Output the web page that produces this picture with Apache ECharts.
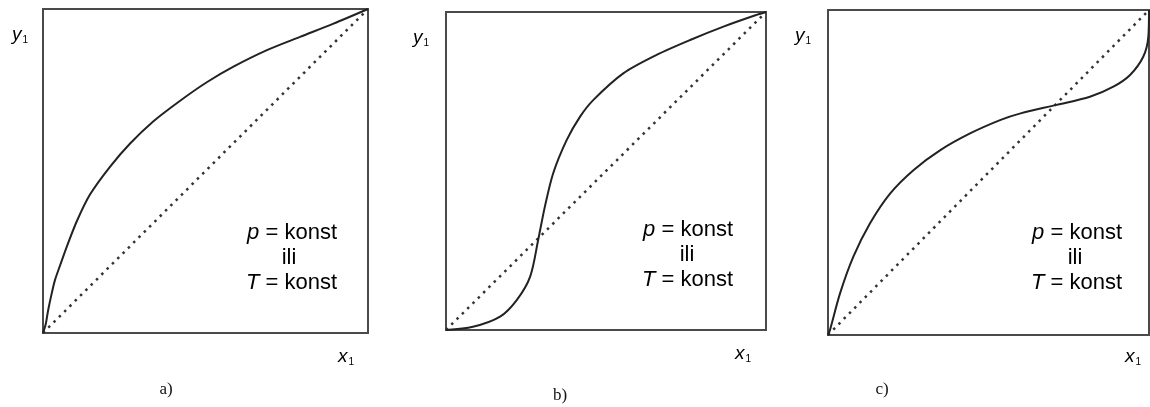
<!DOCTYPE html>
<html>
<head>
<meta charset="utf-8">
<script src="https://cdn.jsdelivr.net/npm/echarts@6/dist/echarts.min.js"></script>
<style>
  html, body { margin: 0; padding: 0; background: #fff; }
  #chart { width: 1150px; height: 407px; }
</style>
</head>
<body>
<div id="chart"></div>
<script>
// ravnotezne krivulje, x1 -> y1 (normirano 0..1)
var curveA = [[0, 0], [0.004, 0.012], [0.009, 0.03], [0.016, 0.071], [0.027, 0.123], [0.037, 0.164],
  [0.053, 0.21], [0.073, 0.266], [0.104, 0.345], [0.145, 0.428], [0.206, 0.513], [0.268, 0.585],
  [0.339, 0.653], [0.422, 0.717], [0.504, 0.774], [0.586, 0.822], [0.689, 0.873], [0.791, 0.914],
  [0.892, 0.954], [1, 1]];
var curveB = [[0, 0], [0.084, 0.010], [0.169, 0.042], [0.221, 0.094], [0.263, 0.168], [0.288, 0.283],
  [0.309, 0.388], [0.335, 0.493], [0.377, 0.597], [0.419, 0.671], [0.460, 0.723], [0.554, 0.807],
  [0.658, 0.865], [0.763, 0.912], [0.867, 0.954], [0.971, 0.991], [1, 1]];
var curveC = [[0, 0], [0.006, 0.015], [0.0375, 0.128], [0.079, 0.241], [0.131, 0.344], [0.194, 0.436],
  [0.267, 0.508], [0.35, 0.569], [0.444, 0.621], [0.538, 0.662], [0.6, 0.682], [0.712, 0.708],
  [0.816, 0.733], [0.889, 0.764], [0.941, 0.8], [0.982, 0.856], [0.998, 0.918], [1, 1]];
var diagonal = [[0, 0], [1, 1]];
var panelNames = ['a)', 'b)', 'c)'];
var curves = [curveA, curveB, curveC];

// polozaj okvira i natpisa za svaki dijagram
var panels = [
  { left: 43, top: 9, width: 325, height: 324, yLab: [12, 35], xLab: [338, 357], name: [166, 390], txtRight: 337, iliX: 289, txtY: 233 },
  { left: 446, top: 12, width: 320, height: 318, yLab: [413, 38], xLab: [735, 354], name: [560, 396], txtRight: 733, iliX: 687, txtY: 230 },
  { left: 828, top: 10, width: 321, height: 325, yLab: [795, 36], xLab: [1125, 357], name: [882, 390], txtRight: 1122, iliX: 1075, txtY: 233 }
];

var textColor = '#333';
var rich = {
  i: { fontFamily: 'Liberation Sans', fontStyle: 'italic', fontSize: 19, color: textColor },
  s: { fontFamily: 'Liberation Sans', fontSize: 10, color: textColor, padding: [10, 0, 0, 1] },
  n: { fontFamily: 'Liberation Sans', fontSize: 22, color: textColor },
  it: { fontFamily: 'Liberation Sans', fontStyle: 'italic', fontSize: 22, color: textColor }
};

var grids = [], xAxes = [], yAxes = [], series = [], graphics = [];

panels.forEach(function (p, k) {
  grids.push({
    left: p.left, top: p.top, width: p.width, height: p.height,
    show: true, borderColor: '#4a4a4a', borderWidth: 2, backgroundColor: '#fff'
  });
  xAxes.push({
    gridIndex: k, type: 'value', min: 0, max: 1,
    axisLine: { show: false }, axisTick: { show: false }, axisLabel: { show: false }, splitLine: { show: false }
  });
  yAxes.push({
    gridIndex: k, type: 'value', min: 0, max: 1,
    axisLine: { show: false }, axisTick: { show: false }, axisLabel: { show: false }, splitLine: { show: false }
  });
  series.push({
    type: 'line', xAxisIndex: k, yAxisIndex: k, data: diagonal,
    showSymbol: false, silent: true,
    lineStyle: { color: '#333', width: 2.5, type: [2.5, 5] }
  });
  series.push({
    type: 'line', xAxisIndex: k, yAxisIndex: k, data: curves[k],
    showSymbol: false, silent: true, smooth: 0.3,
    lineStyle: { color: '#222', width: 2 }
  });

  graphics.push({
    type: 'text', x: p.yLab[0], y: p.yLab[1],
    style: { text: '{i|y}{s|1}', rich: rich, verticalAlign: 'middle' }
  });
  graphics.push({
    type: 'text', x: p.xLab[0], y: p.xLab[1],
    style: { text: '{i|x}{s|1}', rich: rich, verticalAlign: 'middle' }
  });
  graphics.push({
    type: 'text', x: p.name[0], y: p.name[1],
    style: { text: panelNames[k], font: '17px "Liberation Serif"', fill: '#111', align: 'center', verticalAlign: 'middle' }
  });
  graphics.push({
    type: 'text', x: p.txtRight, y: p.txtY,
    style: { text: '{it|p}{n| = konst}', rich: rich, align: 'right', verticalAlign: 'middle' }
  });
  graphics.push({
    type: 'text', x: p.iliX, y: p.txtY + 25,
    style: { text: '{n|ili}', rich: rich, align: 'center', verticalAlign: 'middle' }
  });
  graphics.push({
    type: 'text', x: p.txtRight, y: p.txtY + 50,
    style: { text: '{it|T}{n| = konst}', rich: rich, align: 'right', verticalAlign: 'middle' }
  });
});

var option = {
  backgroundColor: '#fff',
  animation: false,
  grid: grids,
  xAxis: xAxes,
  yAxis: yAxes,
  series: series,
  graphic: graphics
};

var chart = echarts.init(document.getElementById('chart'));
chart.setOption(option);
window.onresize = function () {
  chart.resize();
};
</script>
</body>
</html>
